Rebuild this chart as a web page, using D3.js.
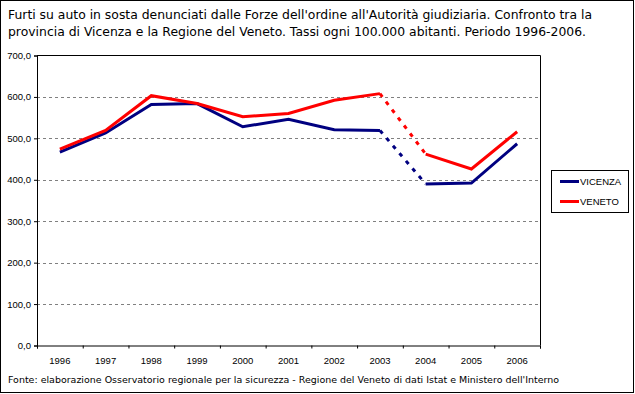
<!DOCTYPE html>
<html>
<head>
<meta charset="utf-8">
<script src="https://cdn.jsdelivr.net/npm/d3@7"></script>
<style>
    body { margin: 0; background: #fff; }
</style>
</head>
<body>
<div id="chart"></div>
<script>
const years = ["1996", "1997", "1998", "1999", "2000", "2001", "2002", "2003", "2004", "2005", "2006"];
const vicenza = [467, 513, 582, 584, 528, 546, 521, 519, 390, 392, 487];
const veneto = [474, 519, 603, 584, 552, 560, 592, 608, 462, 426, 516];
const yTicks = [0, 100, 200, 300, 400, 500, 600, 700];
const titleLines = [
    "Furti su auto in sosta denunciati dalle Forze dell'ordine all'Autorità giudiziaria. Confronto tra la",
    "provincia di Vicenza e la Regione del Veneto. Tassi ogni 100.000 abitanti. Periodo 1996-2006."
];
const sourceText = "Fonte: elaborazione Osservatorio regionale per la sicurezza - Regione del Veneto di dati Istat e Ministero dell'Interno";
const series = [
    { name: "VICENZA", values: vicenza, color: "#000080" },
    { name: "VENETO", values: veneto, color: "#ff0000" }
];
// the 2003-2004 step is drawn dashed in the original
const dashFrom = 7;

const W = 635, H = 394;
const plot = { left: 37, right: 540, top: 55.5, bottom: 345.5 };
const sans = "Liberation Sans, Arial, sans-serif";
const wide = "DejaVu Sans, Verdana, sans-serif";

const svg = d3.select("#chart").append("svg")
    .attr("width", W)
    .attr("height", H)
    .attr("font-family", sans);

// outer frame
svg.append("rect")
    .attr("x", 0.5).attr("y", 0.5)
    .attr("width", W - 2).attr("height", H - 2)
    .attr("fill", "#fff").attr("stroke", "#000");

// title
const titleWidths = [584, 578];
svg.selectAll(".title")
    .data(titleLines)
    .join("text")
    .attr("class", "title")
    .attr("x", 8)
    .attr("y", (d, i) => 18.5 + i * 17.5)
    .attr("font-family", wide)
    .attr("font-size", 12)
    .attr("textLength", (d, i) => titleWidths[i])
    .attr("lengthAdjust", "spacingAndGlyphs")
    .text(d => d);

const x = d3.scaleBand().domain(years).range([plot.left, plot.right]).padding(0);
const xEdge = d3.scaleLinear().domain([0, years.length]).range([plot.left, plot.right]);
const y = d3.scaleLinear().domain([0, 700]).range([plot.bottom, plot.top]);
const fmt = d3.formatLocale({ decimal: ",", thousands: ".", grouping: [3], currency: ["", "€"] }).format(".1f");

// gridlines
svg.append("g")
    .selectAll("line")
    .data(yTicks.filter(d => d > 0 && d < 700))
    .join("line")
    .attr("x1", plot.left).attr("x2", plot.right)
    .attr("y1", d => Math.round(y(d)) + 0.5).attr("y2", d => Math.round(y(d)) + 0.5)
    .attr("stroke", "#808080")
    .attr("stroke-dasharray", "3,3");

// plot border top / right
svg.append("path")
    .attr("d", `M${plot.left},${plot.top}H${plot.right + 0.5}V${plot.bottom}`)
    .attr("fill", "none")
    .attr("stroke", "#000");

// y axis
svg.append("g")
    .attr("transform", `translate(${plot.left},0)`)
    .call(d3.axisLeft(y).tickValues(yTicks).tickFormat(fmt).tickSize(3).tickPadding(3))
    .call(g => g.attr("font-family", sans).attr("font-size", 9.5));

// x axis: ticks on category edges, labels in the middle
svg.append("g")
    .attr("transform", `translate(0,${plot.bottom})`)
    .call(d3.axisBottom(xEdge).tickValues(d3.range(0, years.length + 1)).tickFormat("").tickSize(3));
svg.append("g")
    .attr("transform", `translate(0,${plot.bottom})`)
    .call(d3.axisBottom(x).tickSize(0).tickPadding(12))
    .call(g => g.select(".domain").remove())
    .call(g => g.attr("font-family", sans).attr("font-size", 9.5));
svg.selectAll(".domain").attr("stroke", "#000");

// lines
const line = d3.line()
    .x(d => x(d.year) + x.bandwidth() / 2)
    .y(d => y(d.value));

series.forEach(s => {
    const pts = years.map((yr, i) => ({ year: yr, value: s.values[i] }));
    const parts = [
        { data: pts.slice(0, dashFrom + 1), dash: null },
        { data: pts.slice(dashFrom, dashFrom + 2), dash: "4,6" },
        { data: pts.slice(dashFrom + 1), dash: null }
    ];
    parts.forEach(p => {
        svg.append("path")
            .datum(p.data)
            .attr("d", line)
            .attr("fill", "none")
            .attr("stroke", s.color)
            .attr("stroke-width", 3)
            .attr("stroke-dasharray", p.dash);
    });
});

// legend
const legend = svg.append("g");
legend.append("rect")
    .attr("x", 551.5).attr("y", 170.5)
    .attr("width", 77).attr("height", 42)
    .attr("fill", "#fff").attr("stroke", "#000");
series.forEach((s, i) => {
    const ly = 181.5 + i * 20;
    legend.append("line")
        .attr("x1", 560).attr("x2", 579)
        .attr("y1", ly).attr("y2", ly)
        .attr("stroke", s.color)
        .attr("stroke-width", 3);
    legend.append("text")
        .attr("x", 580)
        .attr("y", ly + 3.5)
        .attr("font-size", 9.5)
        .text(s.name);
});

// source
svg.append("text")
    .attr("x", 8)
    .attr("y", 383)
    .attr("font-family", wide)
    .attr("font-size", 9)
    .attr("textLength", 551)
    .attr("lengthAdjust", "spacingAndGlyphs")
    .text(sourceText);
</script>
</body>
</html>
